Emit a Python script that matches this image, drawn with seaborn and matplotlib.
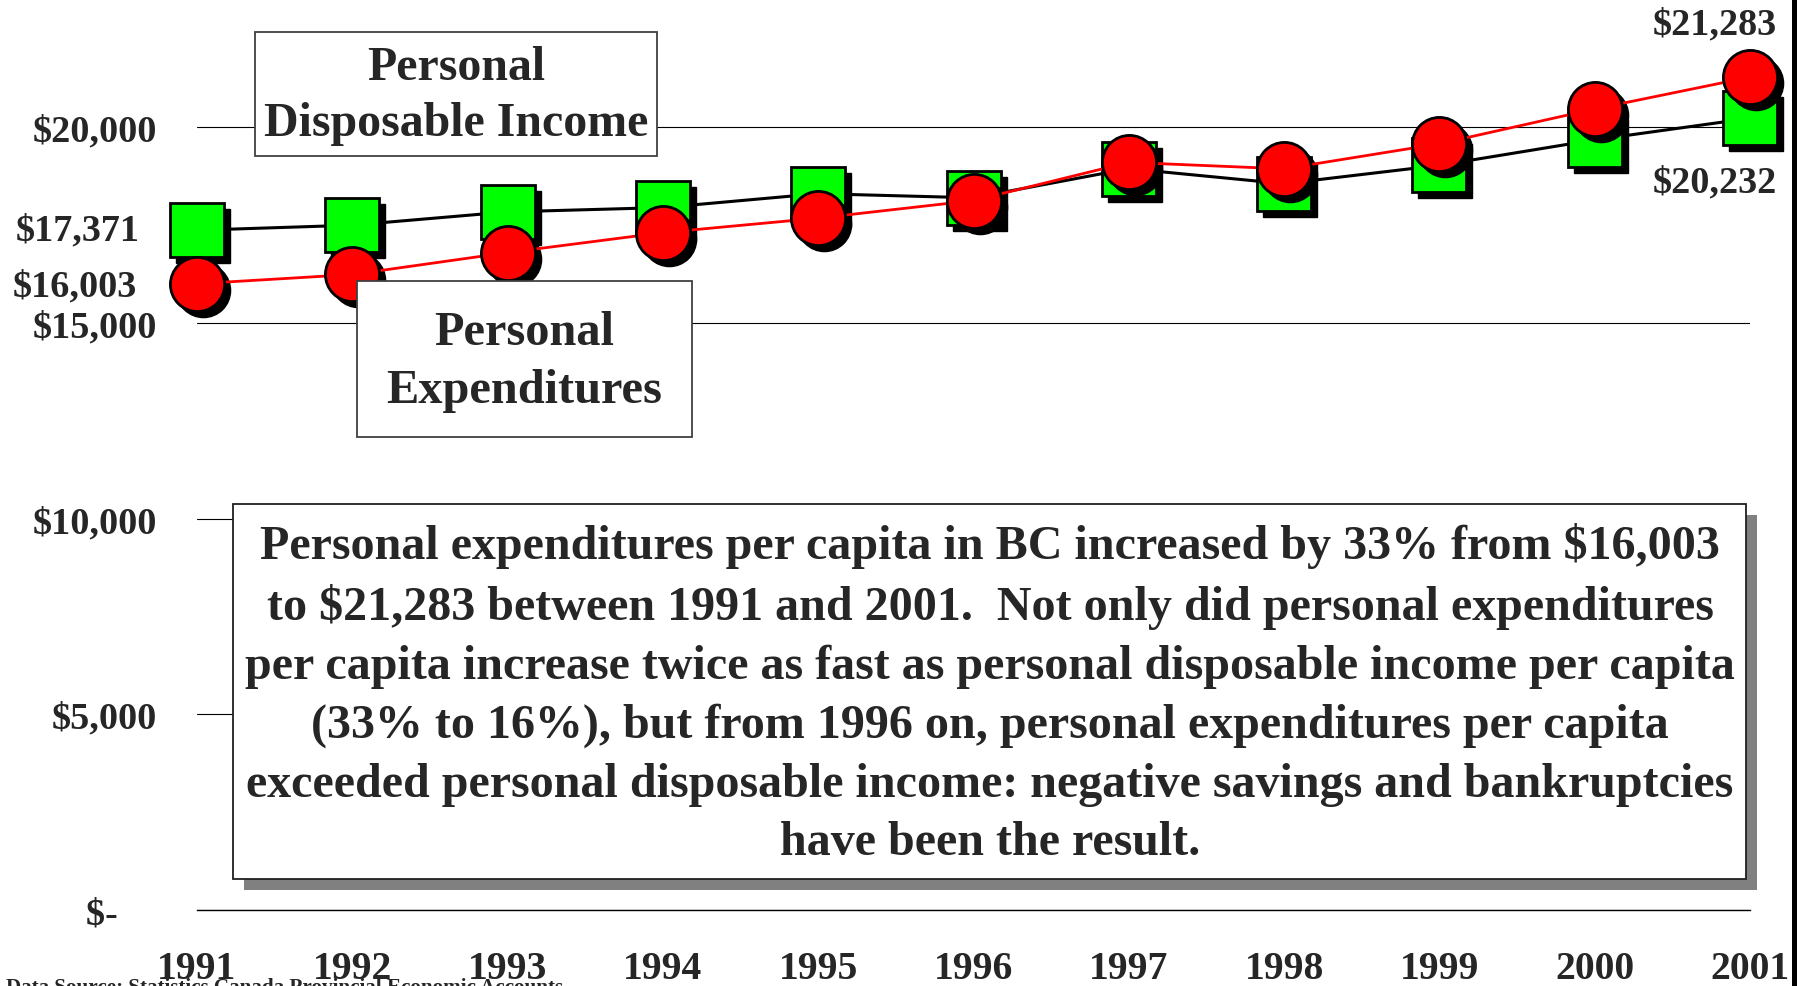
import matplotlib
matplotlib.use("Agg")
import matplotlib.pyplot as plt
import matplotlib.transforms as mtransforms
from matplotlib.patches import Rectangle
import seaborn as sns
import pandas as pd

# ---------------- data ----------------
years = [1991, 1992, 1993, 1994, 1995, 1996, 1997, 1998, 1999, 2000, 2001]
income = [17371, 17500, 17840, 17950, 18305, 18200, 18945, 18560, 19030, 19680, 20232]
expenditures = [16003, 16240, 16800, 17310, 17680, 18130, 19105, 18940, 19580, 20470, 21283]
ytick_values = [0, 5000, 10000, 15000, 20000]
ytick_labels = [r"\$-    ", r"\$5,000", r"\$10,000", r"\$15,000", r"\$20,000"]
income_box = "Personal\nDisposable Income"
exp_box = "Personal\nExpenditures"
note_text = ("Personal expenditures per capita in BC increased by 33% from \\$16,003\n"
             "to \\$21,283 between 1991 and 2001.  Not only did personal expenditures\n"
             "per capita increase twice as fast as personal disposable income per capita\n"
             "(33% to 16%), but from 1996 on, personal expenditures per capita\n"
             "exceeded personal disposable income: negative savings and bankruptcies\n"
             "have been the result.")
source_text = "Data Source: Statistics Canada Provincial Economic Accounts"

df = pd.DataFrame({"year": years, "income": income, "exp": expenditures})

# ---------------- style ----------------
sns.set_style("white")
plt.rcParams["font.family"] = ["Liberation Serif", "DejaVu Serif"]
plt.rcParams["font.weight"] = "bold"

W, H = 1797, 987
DPI = 100
fig = plt.figure(figsize=(W / DPI, H / DPI), dpi=DPI)
fig.patch.set_facecolor("white")

def fx(x):
    return x / W

def fy(y):
    return 1 - y / H

ax_left, ax_right, ax_bottom, ax_top = 197, 1750, 911, 0
ax = fig.add_axes([fx(ax_left), fy(ax_bottom), fx(ax_right - ax_left), (ax_bottom - ax_top) / H])
ax.set_facecolor("none")

MS = 39
shadow_off = mtransforms.offset_copy(ax.transData, fig=fig, x=6, y=-6, units="dots")

# income series: shadow then line+markers
ax.plot(df["year"], df["income"], ls="none", marker="s", ms=MS, color="black",
        transform=shadow_off, clip_on=False, zorder=3)
sns.lineplot(data=df, x="year", y="income", ax=ax, color="black", linewidth=2.2,
             marker="s", markersize=MS, markerfacecolor="#00ff00",
             markeredgecolor="black", markeredgewidth=2, clip_on=False, zorder=4)

# expenditure series
ax.plot(df["year"], df["exp"], ls="none", marker="o", ms=MS, color="black",
        transform=shadow_off, clip_on=False, zorder=5)
sns.lineplot(data=df, x="year", y="exp", ax=ax, color="#ff0000", linewidth=2.0,
             marker="o", markersize=MS, markerfacecolor="#ff0000",
             markeredgecolor="black", markeredgewidth=2, clip_on=False, zorder=6)

ax.set_xlim(years[0], years[-1])
ax.set_ylim(0, 23280)
ax.set_xlabel("")
ax.set_ylabel("")

ax.set_yticks(ytick_values)
ax.set_yticklabels(ytick_labels)
ax.set_xticks(years)
ax.set_xticklabels([str(y) for y in years])

ax.yaxis.grid(True, color="black", linewidth=0.8)
ax.xaxis.grid(False)
ax.set_axisbelow(True)
for s in ["top", "right", "left"]:
    ax.spines[s].set_visible(False)
ax.spines["bottom"].set_color("black")
ax.spines["bottom"].set_linewidth(1.0)

ax.tick_params(axis="y", length=0, pad=29, labelsize=27.5)
ax.tick_params(axis="x", direction="out", length=8, width=1, color="black",
               pad=21, labelsize=28.5)
for t in ax.get_xticklabels() + ax.get_yticklabels():
    t.set_fontweight("bold")

# value annotations
lab_kw = dict(textcoords="offset pixels", fontsize=27.5, fontweight="bold", va="center")
ax.annotate(r"\$17,371", xy=(years[0], income[0]), xytext=(-57, 0), ha="right", **lab_kw)
ax.annotate(r"\$16,003", xy=(years[0], expenditures[0]), xytext=(-60, -2), ha="right", **lab_kw)
ax.annotate(r"\$21,283", xy=(years[-1], expenditures[-1]), xytext=(-35, 53), ha="center", **lab_kw)
ax.annotate(r"\$20,232", xy=(years[-1], income[-1]), xytext=(-35, -64), ha="center", **lab_kw)

# ---------------- boxes ----------------
def box(x0, y0, x1, y1, z, shadow=False, ec="#404040"):
    if shadow:
        fig.patches.append(Rectangle((fx(x0 + 11), fy(y1 + 11)), fx(x1 - x0), (y1 - y0) / H,
                                     transform=fig.transFigure, facecolor="#808080",
                                     edgecolor="none", zorder=z - 0.1))
    fig.patches.append(Rectangle((fx(x0), fy(y1)), fx(x1 - x0), (y1 - y0) / H,
                                 transform=fig.transFigure, facecolor="white",
                                 edgecolor=ec, linewidth=1.3, zorder=z))

box(255, 33, 657, 157, 10)
fig.text(fx(456), fy(96), income_box, ha="center", va="center", fontsize=34.5,
         fontweight="bold", linespacing=1.36, zorder=11)

box(357, 282, 692, 438, 10)
fig.text(fx(524), fy(362), exp_box, ha="center", va="center", fontsize=34.8,
         fontweight="bold", linespacing=1.4, zorder=11)

box(233, 505, 1746, 880, 10, shadow=True, ec="#202020")
fig.text(fx(990), fy(694), note_text, ha="center", va="center", fontsize=34.6,
         fontweight="bold", linespacing=1.42, zorder=11)

fig.text(fx(6), fy(978), source_text, ha="left", va="top", fontsize=15.2,
         fontweight="bold", zorder=12)

# right edge bar
fig.patches.append(Rectangle((fx(1792), 0), fx(5), 1, transform=fig.transFigure,
                             facecolor="black", edgecolor="none", zorder=12))

fig.savefig("out.png", dpi=DPI)
